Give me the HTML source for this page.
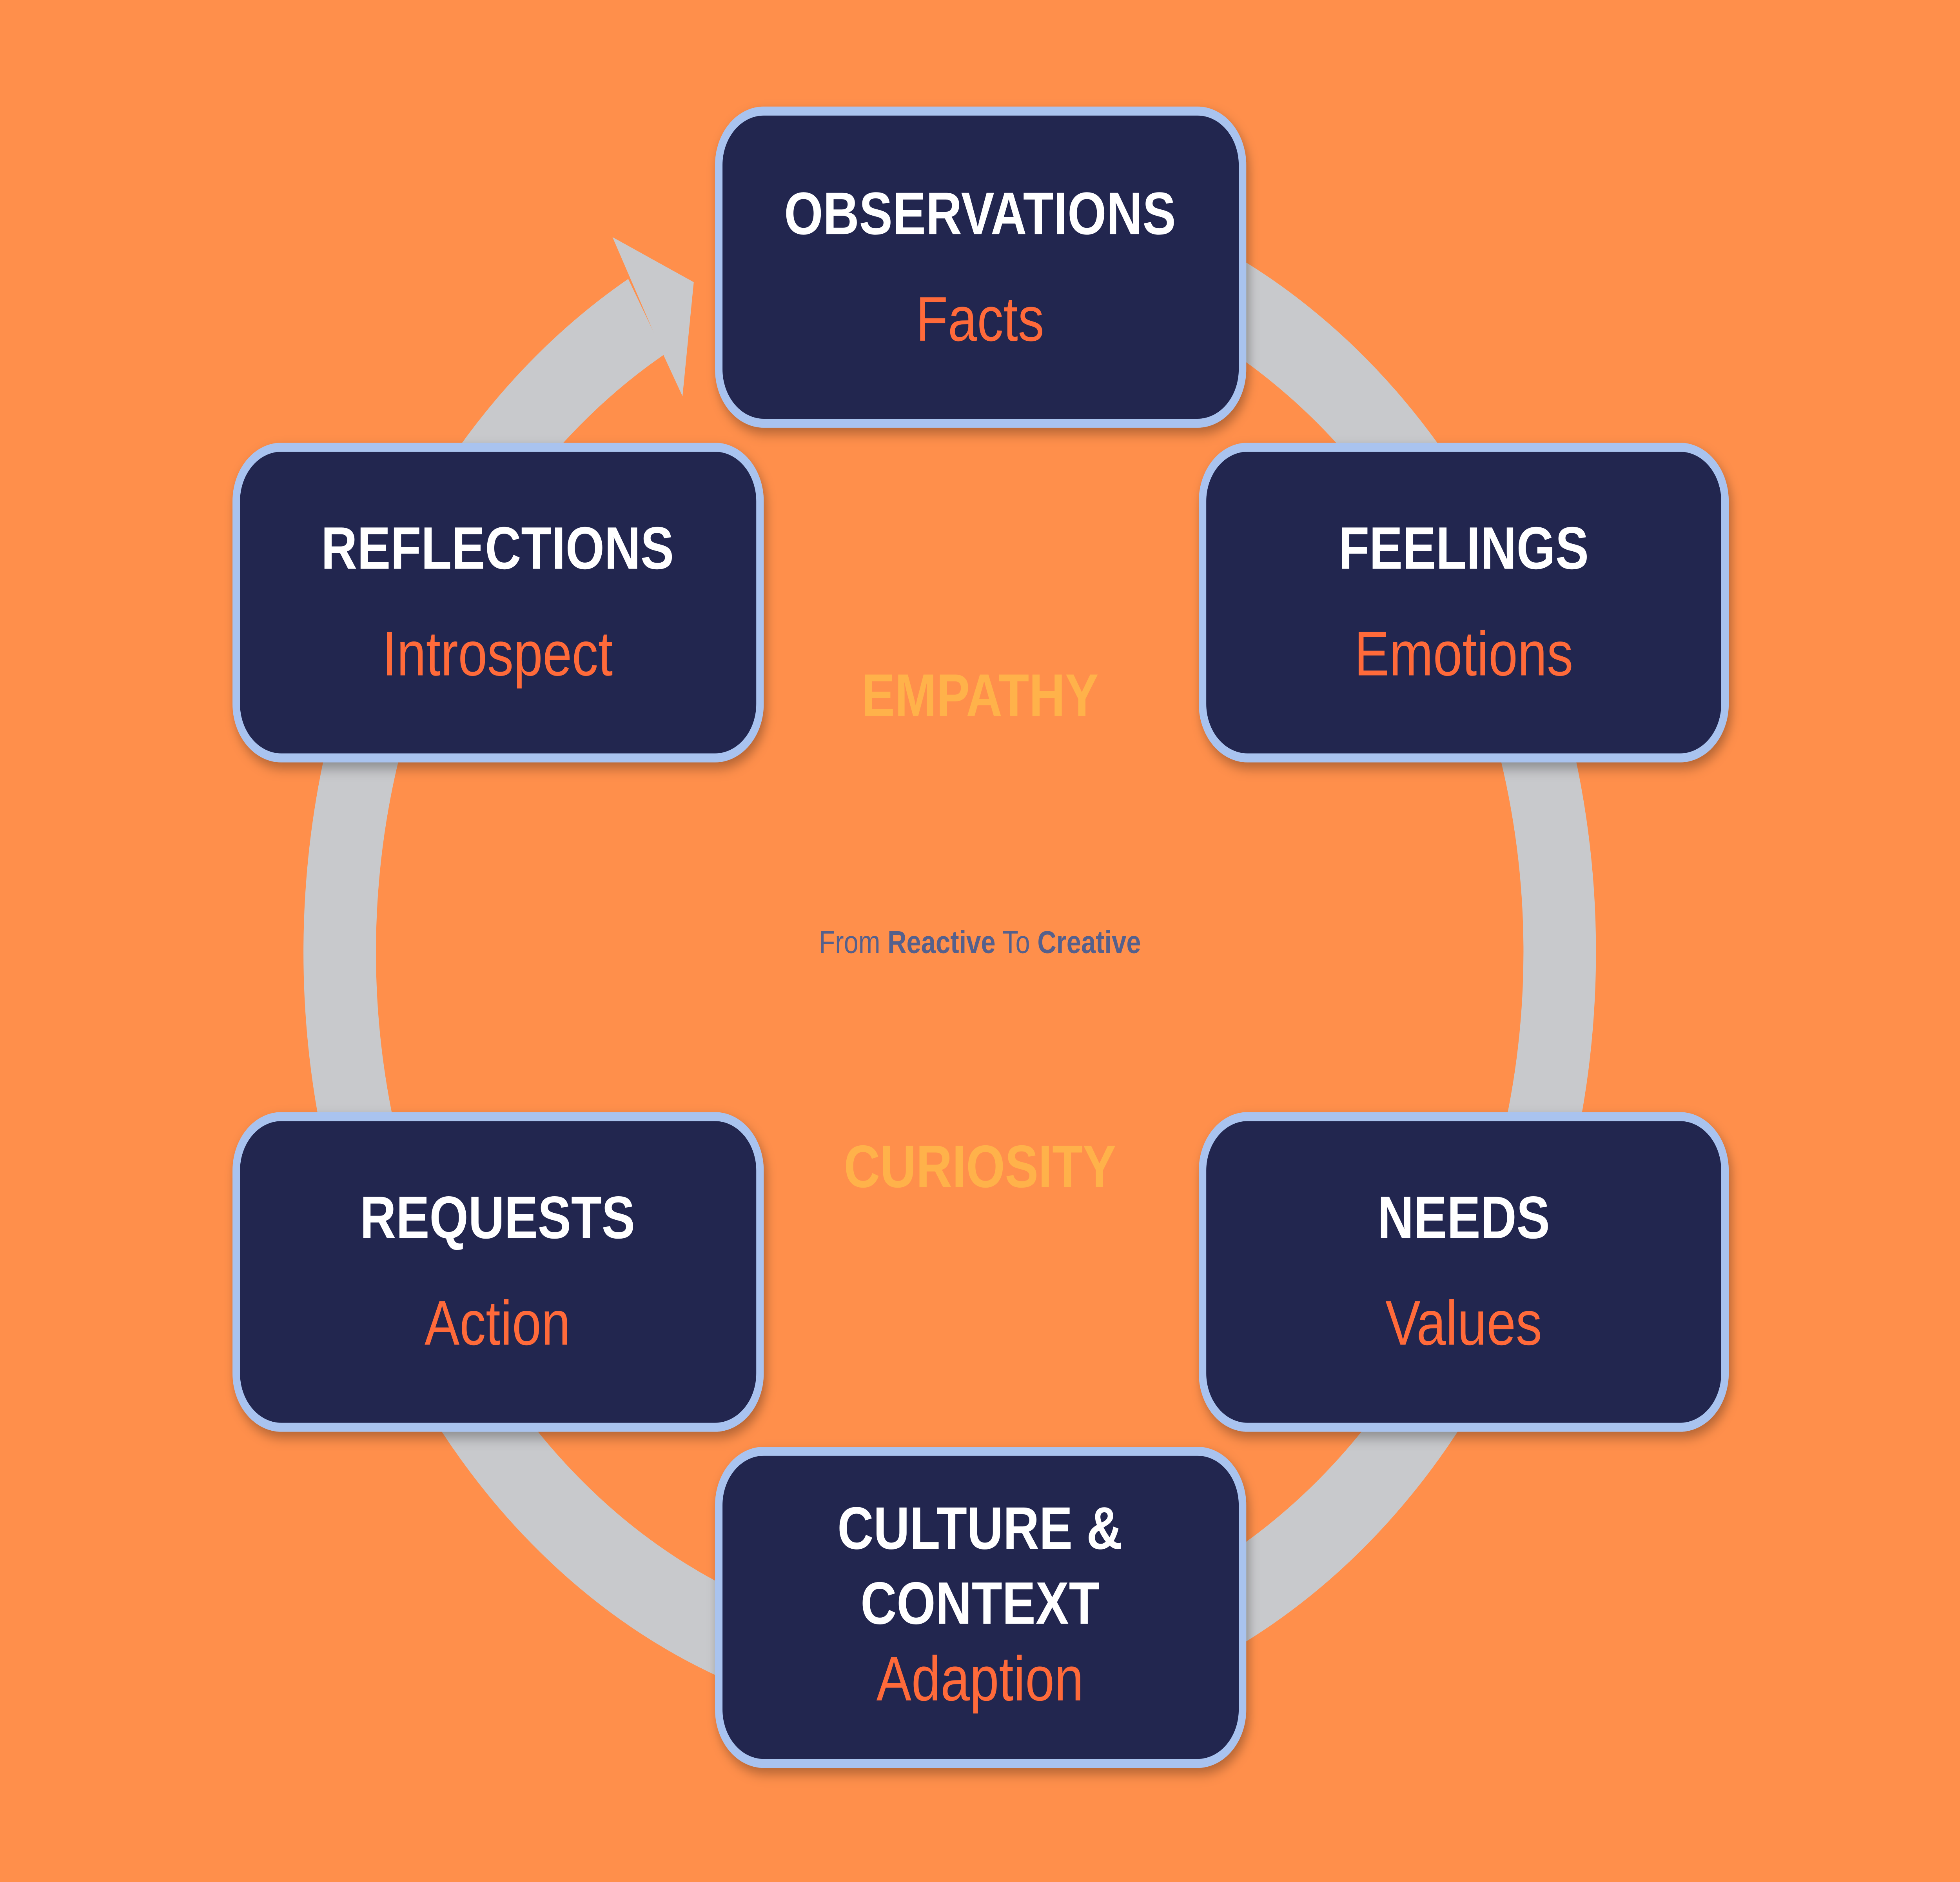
<!DOCTYPE html>
<html><head><meta charset="utf-8"><style>
html,body{margin:0;padding:0;width:100%;height:100%;overflow:hidden;background:#FF8F4B;}
svg{display:block;position:fixed;left:0;top:0;width:100vw;height:100vh;}
</style></head><body>
<svg viewBox="0 0 1568 1254" preserveAspectRatio="none" xmlns="http://www.w3.org/2000/svg">
<defs>
<filter id="sh" x="-10%" y="-10%" width="120%" height="130%">
<feDropShadow dx="2" dy="4" stdDeviation="4" flood-color="#000" flood-opacity="0.3"/>
</filter>
</defs>
<rect width="1568" height="1254" fill="#FF8F4B"/>
<path d="M 517 211 A 488 488 0 1 0 700 150" fill="none" stroke="#C8C9CC" stroke-width="58"/>
<path d="M 700 150 A 488 488 0 0 1 800 132" fill="none" stroke="#C8C9CC" stroke-width="58"/>
<polygon points="504,185 490,158 555,188 546,264 531,237" fill="#C8C9CC"/>
<g font-family="Liberation Sans, sans-serif" text-anchor="middle">
<g filter="url(#sh)" fill="#232850" stroke="#A9C3EF" stroke-width="6">
<rect x="575" y="74" width="419" height="208" rx="36"/>
<rect x="189" y="298" width="419" height="207" rx="36"/>
<rect x="962" y="298" width="418" height="207" rx="36"/>
<rect x="189" y="744" width="419" height="207" rx="36"/>
<rect x="962" y="744" width="418" height="207" rx="36"/>
<rect x="575" y="967" width="419" height="208" rx="36"/>
</g>
<g fill="#FFFFFF" font-weight="bold" font-size="40">
<text x="784" y="156">OBSERVATIONS</text>
<text x="398" y="379">REFLECTIONS</text>
<text x="1171" y="379">FEELINGS</text>
<text x="398" y="825">REQUESTS</text>
<text x="1171" y="825">NEEDS</text>
<text x="784" y="1032">CULTURE &amp;</text>
<text x="784" y="1082">CONTEXT</text>
</g>
<g fill="#FF6A3A" font-size="42">
<text x="784" y="227">Facts</text>
<text x="398" y="450">Introspect</text>
<text x="1171" y="450">Emotions</text>
<text x="398" y="896">Action</text>
<text x="1171" y="896">Values</text>
<text x="784" y="1133">Adaption</text>
</g>
<g fill="#FFB24A" font-weight="bold" font-size="40">
<text x="784" y="477">EMPATHY</text>
<text x="784" y="791">CURIOSITY</text>
</g>
<text x="784" y="635" font-size="21" fill="#55608C">From <tspan font-weight="bold">Reactive</tspan> To <tspan font-weight="bold">Creative</tspan></text>
</g>
</svg>
</body></html>
